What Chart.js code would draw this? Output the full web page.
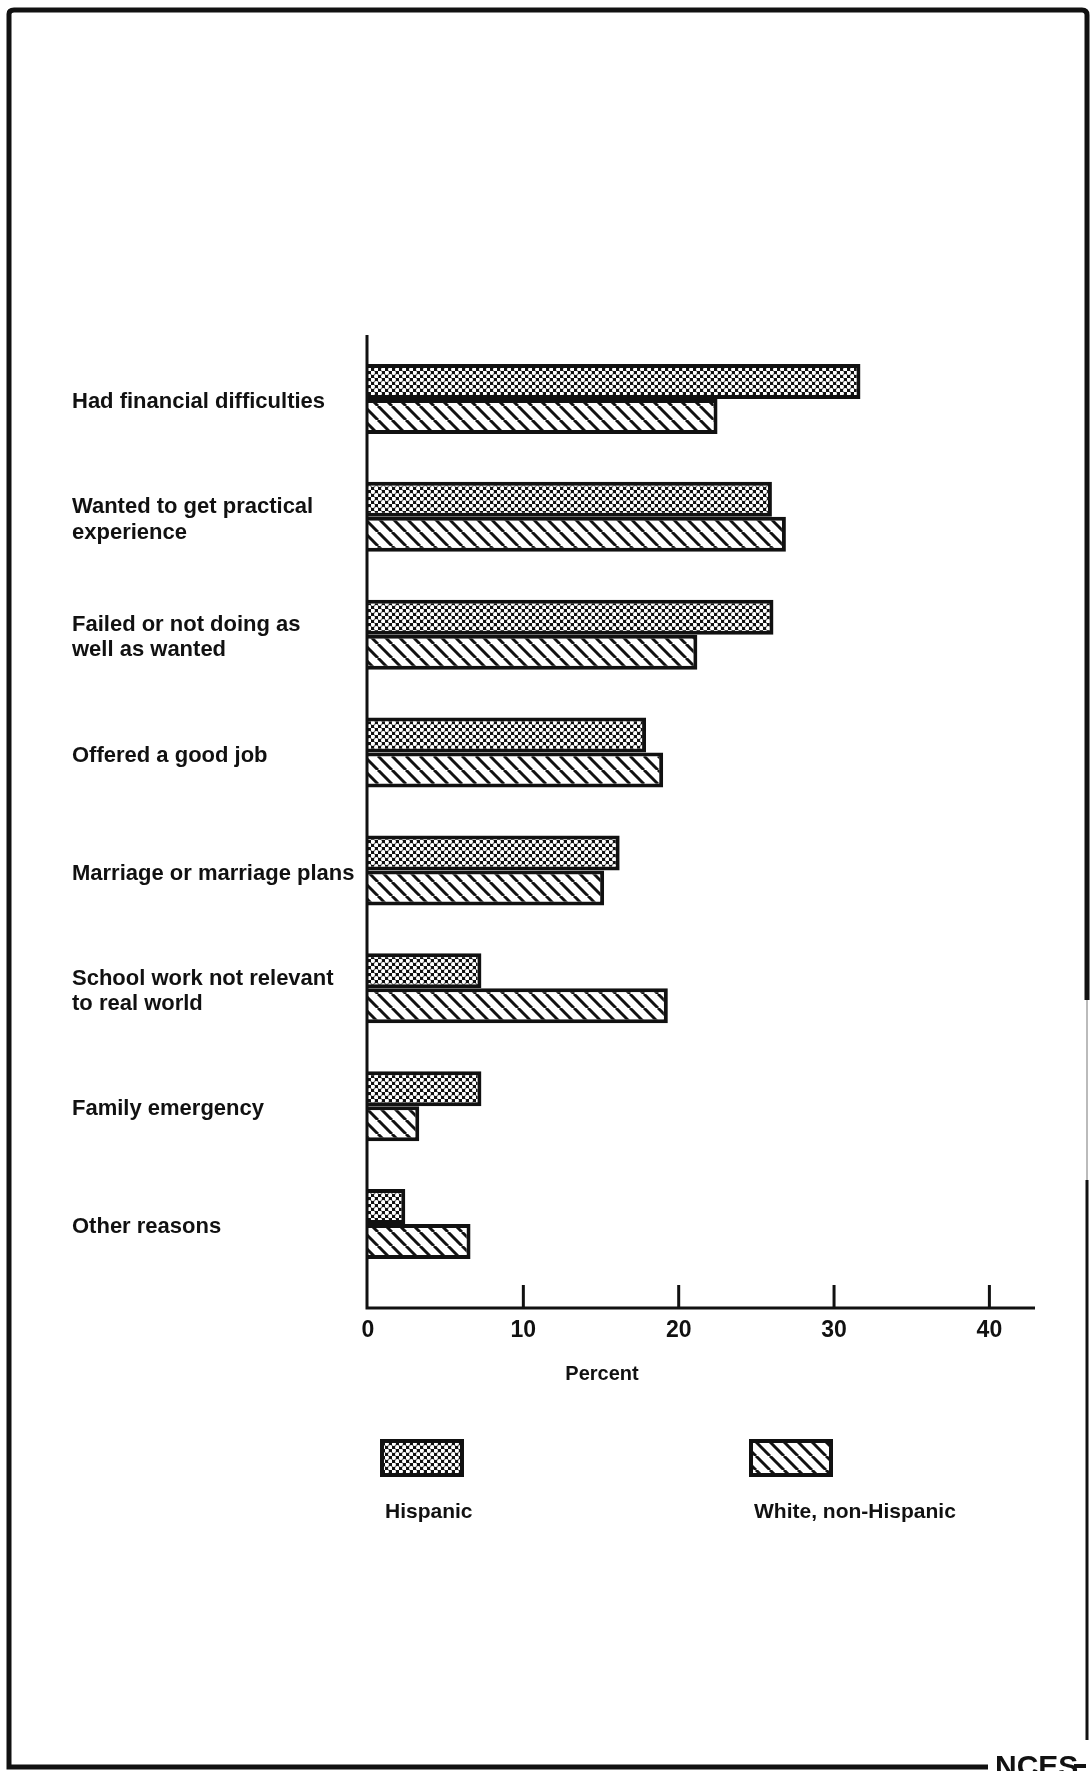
<!DOCTYPE html>
<html>
<head>
<meta charset="utf-8">
<script src="https://cdn.jsdelivr.net/npm/chart.js@4"></script>
<style>
  html, body { margin: 0; padding: 0; background: #fff; }
  #chart { display: block; }
</style>
</head>
<body>
<canvas id="chart" width="1090" height="1771"></canvas>
<script>
// reasons for leaving school, percent by group
const categories = [
  "Had financial difficulties",
  ["Wanted to get practical", "experience"],
  ["Failed or not doing as", "well as wanted"],
  "Offered a good job",
  "Marriage or marriage plans",
  ["School work not relevant", "to real world"],
  "Family emergency",
  "Other reasons"
];
const hispanic = [31.7, 26.0, 26.1, 17.9, 16.2, 7.3, 7.3, 2.4];
const whiteNonHispanic = [22.5, 26.9, 21.2, 19.0, 15.2, 19.3, 3.3, 6.6];
const percentTicks = [0, 10, 20, 30, 40];
const seriesNames = ["Hispanic", "White, non-Hispanic"];

const FONT = "'Liberation Sans', Arial, Helvetica, sans-serif";
const INK = "#111";

// dotted screen (white dots on black) for Hispanic
function dotPattern() {
  const c = document.createElement("canvas");
  c.width = 7; c.height = 7;
  const g = c.getContext("2d");
  g.fillStyle = INK;
  g.fillRect(0, 0, 7, 7);
  g.fillStyle = "#fff";
  [[1.75, 1.75], [5.25, 5.25]].forEach(function (p) {
    g.beginPath();
    g.arc(p[0], p[1], 2.2, 0, Math.PI * 2);
    g.fill();
  });
  return g.createPattern(c, "repeat");
}

// "\" hatch for White, non-Hispanic
function hatchPattern() {
  const s = 14;
  const c = document.createElement("canvas");
  c.width = s; c.height = s;
  const g = c.getContext("2d");
  g.fillStyle = "#fff";
  g.fillRect(0, 0, s, s);
  g.strokeStyle = INK;
  g.lineWidth = 3;
  [-s, 0, s].forEach(function (x0) {
    g.beginPath();
    g.moveTo(x0, 0);
    g.lineTo(x0 + s, s);
    g.stroke();
  });
  return g.createPattern(c, "repeat");
}

const fills = [dotPattern(), hatchPattern()];

const decorations = {
  id: "decorations",
  afterDraw(chart) {
    const ctx = chart.ctx;
    const x = chart.scales.x;
    const x0 = x.getPixelForValue(0);
    const axisY = 1308;
    ctx.save();
    ctx.strokeStyle = INK;
    ctx.lineCap = "butt";

    // axes
    ctx.lineWidth = 3;
    ctx.beginPath();
    ctx.moveTo(x0 - 1, 335);
    ctx.lineTo(x0 - 1, axisY);
    ctx.lineTo(1035, axisY);
    ctx.stroke();
    percentTicks.slice(1).forEach(function (v) {
      const px = x.getPixelForValue(v);
      ctx.beginPath();
      ctx.moveTo(px, axisY - 23);
      ctx.lineTo(px, axisY);
      ctx.stroke();
    });

    // axis title
    ctx.fillStyle = INK;
    ctx.font = "bold 20px " + FONT;
    ctx.textAlign = "center";
    ctx.textBaseline = "middle";
    ctx.fillText("Percent", 602, 1374);

    // legend: swatch above label
    const boxes = [[382, 1441], [751, 1441]];
    chart.data.datasets.forEach(function (ds, i) {
      const b = boxes[i];
      ctx.fillStyle = ds.backgroundColor;
      ctx.fillRect(b[0], b[1], 80, 34);
      ctx.lineWidth = 4;
      ctx.strokeRect(b[0], b[1], 80, 34);
      ctx.fillStyle = INK;
      ctx.font = "bold 21px " + FONT;
      ctx.textAlign = "left";
      ctx.fillText(ds.label, b[0] + 3, 1512);
    });

    // page frame
    ctx.lineWidth = 5;
    ctx.beginPath();
    ctx.moveTo(988, 1767);
    ctx.lineTo(9, 1767);
    ctx.lineTo(9, 14);
    ctx.quadraticCurveTo(9, 10, 14, 10);
    ctx.lineTo(1082, 10);
    ctx.quadraticCurveTo(1087, 10, 1087, 15);
    ctx.lineTo(1087, 1000);
    ctx.stroke();
    ctx.strokeStyle = "#bbb";
    ctx.lineWidth = 2;
    ctx.beginPath();
    ctx.moveTo(1087, 1000);
    ctx.lineTo(1087, 1180);
    ctx.stroke();
    ctx.strokeStyle = INK;
    ctx.lineWidth = 3;
    ctx.beginPath();
    ctx.moveTo(1087, 1180);
    ctx.lineTo(1087, 1740);
    ctx.stroke();
    ctx.fillStyle = INK;
    ctx.font = "bold 30px " + FONT;
    ctx.textAlign = "left";
    ctx.textBaseline = "alphabetic";
    ctx.fillText("NCES", 995, 1776);
    ctx.fillRect(1074, 1764, 12, 4);
    ctx.restore();
  }
};

new Chart(document.getElementById("chart"), {
  type: "bar",
  data: {
    labels: categories,
    datasets: [
      {
        label: seriesNames[0],
        data: hispanic,
        backgroundColor: fills[0],
        borderColor: INK,
        borderWidth: 4
      },
      {
        label: seriesNames[1],
        data: whiteNonHispanic,
        backgroundColor: fills[1],
        borderColor: INK,
        borderWidth: 4
      }
    ]
  },
  options: {
    indexAxis: "y",
    responsive: false,
    animation: false,
    devicePixelRatio: 1,
    categoryPercentage: 0.594,
    barPercentage: 1.0,
    layout: { padding: { top: 340, left: 72, right: 54, bottom: 408 } },
    plugins: {
      legend: { display: false },
      tooltip: { enabled: false }
    },
    scales: {
      x: {
        type: "linear",
        min: 0,
        max: 43,
        afterBuildTicks(scale) {
          scale.ticks = percentTicks.map(function (v) { return { value: v }; });
        },
        afterFit(scale) { scale.height = 80; },
        grid: { display: false, drawTicks: false },
        border: { display: false },
        ticks: {
          padding: 34,
          color: INK,
          font: { family: FONT, size: 23, weight: "bold" }
        }
      },
      y: {
        afterFit(scale) { scale.width = 296; },
        grid: { display: false, drawTicks: false },
        border: { display: false },
        ticks: {
          crossAlign: "far",
          labelOffset: 3,
          padding: 0,
          color: INK,
          font: { family: FONT, size: 22, weight: "bold", lineHeight: 1.15 }
        }
      }
    }
  },
  plugins: [decorations]
});
</script>
</body>
</html>
